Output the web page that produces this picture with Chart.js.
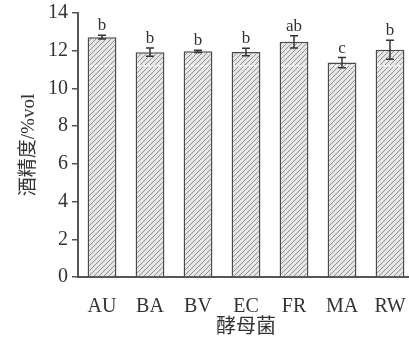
<!DOCTYPE html>
<html><head><meta charset="utf-8">
<script src="https://cdn.jsdelivr.net/npm/chart.js@4"></script>
<style>html,body{margin:0;padding:0;overflow:hidden;background:#fff}
#wrap{width:420px;height:340px;position:relative}</style></head>
<body><div id="wrap"><canvas id="c"></canvas></div>
<script>
const categories = ['AU','BA','BV','EC','FR','MA','RW'];
const alcohol = [12.72, 11.92, 11.97, 11.93, 12.47, 11.37, 12.05];
const errors = [0.10, 0.22, 0.06, 0.20, 0.33, 0.27, 0.50];
const letters = ['b','b','b','b','ab','c','b'];
const yTickStep = 2;
const yMin = 0, yMax = 14;
const xTitle = '酵母菌';
const yTitle = '酒精度/%vol';

function makeHatch() {
  const s = 5;
  const c = document.createElement('canvas');
  c.width = s; c.height = s;
  const g = c.getContext('2d');
  g.fillStyle = '#e6e6e6';
  g.fillRect(0, 0, s, s);
  g.strokeStyle = '#909090';
  g.lineWidth = 1;
  g.beginPath();
  g.moveTo(0, s); g.lineTo(s, 0);
  g.moveTo(-1, 1); g.lineTo(1, -1);
  g.moveTo(s - 1, s + 1); g.lineTo(s + 1, s - 1);
  g.stroke();
  return g.createPattern(c, 'repeat');
}

const serif = "'Liberation Serif', 'Times New Roman', serif";
const mixed = "'Liberation Serif', 'Noto Sans CJK SC', serif";

const extras = {
  id: 'extras',
  afterDatasetsDraw(chart) {
    const ctx = chart.ctx;
    const meta = chart.getDatasetMeta(0);
    const y = chart.scales.y;
    ctx.save();
    meta.data.forEach((bar, i) => {
      const v = alcohol[i], e = errors[i];
      const half = bar.width / 2;
      const yd = y.getPixelForValue(11.2);
      ctx.setLineDash([3, 2]);
      ctx.strokeStyle = 'rgba(255,255,255,0.9)';
      ctx.lineWidth = 1.5;
      ctx.beginPath();
      ctx.moveTo(bar.x - half + 2, yd);
      ctx.lineTo(bar.x + half - 2, yd);
      ctx.stroke();
      ctx.setLineDash([]);
      const yt = y.getPixelForValue(v + e);
      const yb = y.getPixelForValue(v - e);
      ctx.strokeStyle = '#333';
      ctx.lineWidth = 1.5;
      ctx.beginPath();
      ctx.moveTo(bar.x, yt); ctx.lineTo(bar.x, yb);
      ctx.moveTo(bar.x - 4, yt); ctx.lineTo(bar.x + 4, yt);
      ctx.moveTo(bar.x - 4, yb); ctx.lineTo(bar.x + 4, yb);
      ctx.stroke();
      ctx.fillStyle = '#333';
      ctx.font = '17px ' + serif;
      ctx.textAlign = 'center';
      ctx.textBaseline = 'alphabetic';
      ctx.fillText(letters[i], bar.x, yt - 5);
    });
    ctx.restore();
  }
};

new Chart(document.getElementById('c'), {
  type: 'bar',
  data: {
    labels: categories,
    datasets: [{
      data: alcohol,
      backgroundColor: makeHatch(),
      borderColor: '#4a4a4a',
      borderWidth: 1.5,
      borderSkipped: 'bottom',
      categoryPercentage: 1,
      barPercentage: 0.6
    }]
  },
  options: {
    responsive: true,
    maintainAspectRatio: false,
    animation: false,
    layout: { padding: { top: 0, right: 6, left: 0, bottom: 0 } },
    plugins: { legend: { display: false }, tooltip: { enabled: false } },
    scales: {
      x: {
        grid: { display: false },
        border: { display: true, color: '#555', width: 2 },
        ticks: { color: '#333', font: { family: serif, size: 20 }, padding: 10 },
        title: { display: true, text: xTitle, color: '#333', font: { family: mixed, size: 20 }, padding: { top: 0, bottom: 0 } },
        afterFit(s) { s.height = 63; }
      },
      y: {
        min: yMin, max: yMax,
        ticks: { stepSize: yTickStep, color: '#333', font: { family: serif, size: 20, lineHeight: 0.9 }, padding: 4 },
        grid: { drawOnChartArea: false, drawTicks: true, tickLength: 6, color: '#555', lineWidth: 1.5 },
        border: { display: true, color: '#555', width: 2 },
        title: { display: true, text: yTitle, color: '#333', font: { family: mixed, size: 19 }, padding: { top: 18, bottom: 0 } },
        afterFit(s) { s.width = 78; }
      }
    }
  },
  plugins: [extras]
});
</script></body></html>
